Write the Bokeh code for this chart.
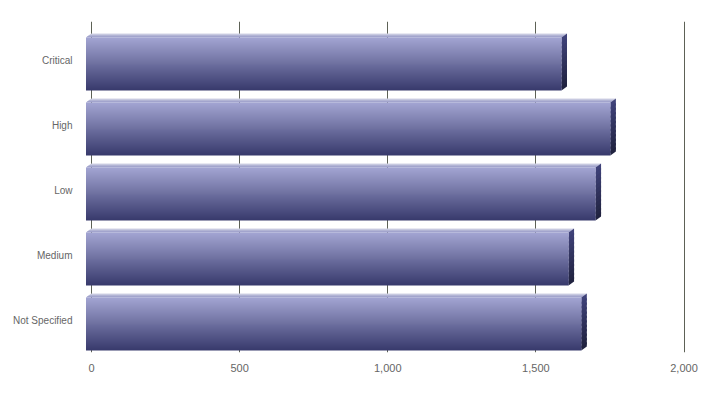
import numpy as np
from bokeh.plotting import figure
from bokeh.models import Range1d, FixedTicker, NumeralTickFormatter
from bokeh.embed import file_html
from bokeh.resources import INLINE

# ---- data ----
categories = ["Critical", "High", "Low", "Medium", "Not Specified"]
values = [1605, 1770, 1720, 1629, 1672]
x_ticks = [0, 500, 1000, 1500, 2000]

# ---- geometry (pixel based styling) ----
PX_X = 0.29625          # pixels per value unit
PX_Y = 65.0             # pixels per category unit
x_start = -(91.0 - 80) / PX_X
x_end = x_start + 620 / PX_X
y_start = -0.5
y_end = y_start + 331 / PX_Y

p = figure(width=720, height=394,
           min_border_left=80, min_border_right=20,
           min_border_top=21, min_border_bottom=42,
           x_range=Range1d(x_start, x_end), y_range=Range1d(y_start, y_end),
           output_backend="svg", toolbar_location=None)
p.outline_line_color = None
p.background_fill_color = "white"
p.border_fill_color = "white"

def hex2rgb(h):
    h = h.lstrip("#")
    return np.array([int(h[i:i+2], 16) for i in (0, 2, 4)], dtype=float)

def rgb2hex(c):
    return "#%02x%02x%02x" % tuple(int(round(v)) for v in c)

def ramp(c0, c1, n):
    a, b = hex2rgb(c0), hex2rgb(c1)
    return [rgb2hex(a + (b - a) * (k / max(n - 1, 1))) for k in range(n)]

dx = 5.5 / PX_X
n_front = 53
front_cols = ramp("#a2a4d2", "#393b6c", n_front)
top_cols = ["#d3d4e6", "#bcbed9", "#a8aad0", "#9b9dca"]
side_cols = ramp("#3f4279", "#212340", 12)

yc_list = [len(categories) - 1 - i for i in range(len(categories))]

fl, fr, ft, fb, fc = [], [], [], [], []
pxs, pys, pcs = [], [], []
for v, yc in zip(values, yc_list):
    back_top = yc + 26.5 / PX_Y
    back_bot = yc - 26.5 / PX_Y
    front_top = yc + 22.5 / PX_Y
    front_bot = yc - 30.5 / PX_Y
    h = (front_top - front_bot) / n_front
    for j in range(n_front):
        t = front_top - j * h
        ext = 0.0 if j == n_front - 1 else 0.6 * h
        fl.append(-dx); fr.append(v - dx)
        ft.append(t); fb.append(t - h - ext)
        fc.append(front_cols[j])
    # top face strips
    nt = len(top_cols)
    for j in range(nt):
        t0, t1 = j / nt, (j + 1) / nt
        t1e = min(1.0, t1 + 0.5 / nt)
        y0 = back_top - t0 * (back_top - front_top)
        y1 = back_top - t1e * (back_top - front_top)
        pxs.append([-t0 * dx, v - t0 * dx, v - t1e * dx, -t1e * dx])
        pys.append([y0, y0, y1, y1])
        pcs.append(top_cols[j])
    # side face strips
    ns = len(side_cols)
    for j in range(ns):
        s0, s1 = j / ns, (j + 1) / ns
        s1e = min(1.0, s1 + 0.5 / ns)
        by0 = back_top - s0 * (back_top - back_bot)
        by1 = back_top - s1e * (back_top - back_bot)
        fy0 = front_top - s0 * (front_top - front_bot)
        fy1 = front_top - s1e * (front_top - front_bot)
        pxs.append([v - dx, v, v, v - dx])
        pys.append([fy0, by0, by1, fy1])
        pcs.append(side_cols[j])

p.patches(pxs, pys, fill_color=pcs, line_color=None)
p.quad(left=fl, right=fr, top=ft, bottom=fb, fill_color=fc, line_color=None)

# ---- grid ----
p.ygrid.grid_line_color = None
p.xgrid.ticker = FixedTicker(ticks=x_ticks)
p.xgrid.grid_line_color = "#5d6156"
p.xgrid.grid_line_width = 1
p.xgrid.grid_line_alpha = 1.0

# ---- axes ----
for ax in (p.xaxis, p.yaxis):
    ax.axis_line_color = None
    ax.major_tick_line_color = None
    ax.minor_tick_line_color = None
    ax.major_label_text_font = "Liberation Sans"
    ax.major_label_text_color = "#666666"

p.xaxis.major_label_text_font_size = "11px"
p.yaxis.major_label_text_font_size = "10px"

p.xaxis.ticker = FixedTicker(ticks=x_ticks)
p.xaxis.formatter = NumeralTickFormatter(format="0,0")
p.xaxis.major_label_standoff = 5

p.yaxis.ticker = FixedTicker(ticks=yc_list)
p.yaxis.major_label_overrides = {yc: c for yc, c in zip(yc_list, categories)}
p.yaxis.major_label_standoff = 2

open("out.html", "w").write(file_html(p, INLINE))
